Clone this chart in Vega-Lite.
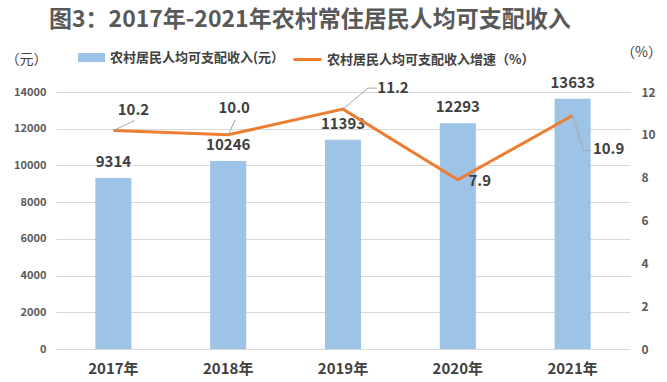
{
  "$schema": "https://vega.github.io/schema/vega-lite/v6.json",
  "width": 574,
  "height": 257,
  "autosize": "none",
  "padding": {"left": 56, "top": 92, "right": 37, "bottom": 33},
  "background": "white",
  "config": {
    "font": "Noto Sans CJK SC",
    "view": {"stroke": null},
    "legend": {"padding": 0, "labelLimit": 0}
  },
  "title": {
    "text": "图3：2017年-2021年农村常住居民人均可支配收入",
    "anchor": "start",
    "frame": "group",
    "dx": -7,
    "offset": 12,
    "fontSize": 23,
    "fontWeight": "bold",
    "color": "#595959"
  },
  "data": {
    "values": [
      {"year": "2017年", "income": 9314, "rate": 10.2},
      {"year": "2018年", "income": 10246, "rate": 10.0},
      {"year": "2019年", "income": 11393, "rate": 11.2},
      {"year": "2020年", "income": 12293, "rate": 7.9},
      {"year": "2021年", "income": 13633, "rate": 10.9}
    ]
  },
  "encoding": {
    "x": {
      "field": "year",
      "type": "nominal",
      "sort": null,
      "scale": {"paddingInner": 0.686, "paddingOuter": 0.343},
      "axis": {
        "title": null,
        "labelAngle": 0,
        "domain": false,
        "ticks": false,
        "labelPadding": 12,
        "labelFontSize": 15,
        "labelFontWeight": "bold",
        "labelColor": "#404040"
      }
    }
  },
  "layer": [
    {
      "encoding": {
        "y": {
          "field": "income",
          "type": "quantitative",
          "scale": {"domain": [0, 14000]},
          "axis": {
            "values": [0, 2000, 4000, 6000, 8000, 10000, 12000, 14000],
            "format": "d",
            "domain": false,
            "ticks": false,
            "gridColor": "#d9d9d9",
            "labelPadding": 10,
            "labelFontSize": 11,
            "labelFontWeight": "bold",
            "labelColor": "#595959",
            "title": "（元）",
            "titleAngle": 0,
            "titleAlign": "center",
            "titleBaseline": "middle",
            "titleX": -30,
            "titleY": -33,
            "titleFontSize": 14,
            "titleFontWeight": "normal",
            "titleColor": "#404040"
          }
        }
      },
      "layer": [
        {
          "mark": {"type": "bar"},
          "encoding": {
            "color": {
              "datum": "农村居民人均可支配收入(元）",
              "scale": {"range": ["#9DC3E6"]},
              "legend": {
                "title": null,
                "orient": "none",
                "legendX": 22,
                "legendY": -48,
                "symbolType": "M-1,-0.33H1V0.33H-1Z",
                "symbolSize": 729,
                "symbolStrokeWidth": 0,
                "labelOffset": 5,
                "labelFontSize": 13,
                "labelFontWeight": "bold",
                "labelColor": "#404040"
              }
            }
          }
        },
        {
          "mark": {"type": "text", "dy": -16, "baseline": "middle", "fontSize": 15, "fontWeight": "bold", "color": "#404040"},
          "encoding": {"text": {"field": "income", "type": "quantitative", "format": "d"}}
        }
      ]
    },
    {
      "encoding": {
        "y": {
          "field": "rate",
          "type": "quantitative",
          "scale": {"domain": [0, 12]},
          "axis": {
            "orient": "right",
            "values": [0, 2, 4, 6, 8, 10, 12],
            "grid": false,
            "domain": false,
            "ticks": false,
            "labelPadding": 11,
            "labelFontSize": 12,
            "labelFontWeight": "bold",
            "labelColor": "#595959",
            "title": "（%）",
            "titleAngle": 0,
            "titleAlign": "center",
            "titleBaseline": "middle",
            "titleX": 11,
            "titleY": -40,
            "titleFontSize": 14,
            "titleFontWeight": "normal",
            "titleColor": "#404040"
          }
        }
      },
      "layer": [
        {
          "mark": {"type": "line", "strokeWidth": 3},
          "encoding": {
            "stroke": {
              "datum": "农村居民人均可支配收入增速（%）",
              "scale": {"range": ["#ED7D31"]},
              "legend": {
                "title": null,
                "orient": "none",
                "legendX": 236,
                "legendY": -48,
                "symbolType": "stroke",
                "symbolSize": 784,
                "symbolStrokeWidth": 3,
                "labelOffset": 4,
                "labelFontSize": 13,
                "labelFontWeight": "bold",
                "labelColor": "#404040"
              }
            }
          }
        },
        {
          "transform": [{"filter": "datum.year == '2017年'"}],
          "mark": {"type": "rule", "color": "#a6a6a6", "strokeWidth": 1, "x2Offset": 21, "y2Offset": -10},
          "encoding": {"x2": {"field": "year"}, "y2": {"field": "rate"}}
        },
        {
          "transform": [{"filter": "datum.year == '2018年'"}],
          "mark": {"type": "rule", "color": "#a6a6a6", "strokeWidth": 1, "x2Offset": 7, "y2Offset": -15},
          "encoding": {"x2": {"field": "year"}, "y2": {"field": "rate"}}
        },
        {
          "transform": [{"filter": "datum.year == '2019年'"}],
          "mark": {"type": "rule", "color": "#a6a6a6", "strokeWidth": 1, "x2Offset": 25, "y2Offset": -21},
          "encoding": {"x2": {"field": "year"}, "y2": {"field": "rate"}}
        },
        {
          "transform": [{"filter": "datum.year == '2019年'"}],
          "mark": {"type": "rule", "color": "#a6a6a6", "strokeWidth": 1, "xOffset": 25, "yOffset": -21, "x2Offset": 34, "y2Offset": -21},
          "encoding": {"x2": {"field": "year"}, "y2": {"field": "rate"}}
        },
        {
          "transform": [{"filter": "datum.year == '2021年'"}],
          "mark": {"type": "rule", "color": "#a6a6a6", "strokeWidth": 1, "x2Offset": 11, "y2Offset": 35},
          "encoding": {"x2": {"field": "year"}, "y2": {"field": "rate"}}
        },
        {
          "transform": [{"filter": "datum.year == '2021年'"}],
          "mark": {"type": "rule", "color": "#a6a6a6", "strokeWidth": 1, "xOffset": 11, "yOffset": 35, "x2Offset": 18, "y2Offset": 35},
          "encoding": {"x2": {"field": "year"}, "y2": {"field": "rate"}}
        },
        {
          "transform": [{"filter": "datum.year == '2017年'"}],
          "mark": {"type": "text", "dx": 20, "dy": -21, "baseline": "middle", "fontSize": 15, "fontWeight": "bold", "color": "#404040"},
          "encoding": {"text": {"field": "rate", "type": "quantitative", "format": ".1f"}}
        },
        {
          "transform": [{"filter": "datum.year == '2018年'"}],
          "mark": {"type": "text", "dx": 6, "dy": -27, "baseline": "middle", "fontSize": 15, "fontWeight": "bold", "color": "#404040"},
          "encoding": {"text": {"field": "rate", "type": "quantitative", "format": ".1f"}}
        },
        {
          "transform": [{"filter": "datum.year == '2019年'"}],
          "mark": {"type": "text", "dx": 50, "dy": -21, "baseline": "middle", "fontSize": 15, "fontWeight": "bold", "color": "#404040"},
          "encoding": {"text": {"field": "rate", "type": "quantitative", "format": ".1f"}}
        },
        {
          "transform": [{"filter": "datum.year == '2020年'"}],
          "mark": {"type": "text", "dx": 22, "dy": 1, "baseline": "middle", "fontSize": 15, "fontWeight": "bold", "color": "#404040"},
          "encoding": {"text": {"field": "rate", "type": "quantitative", "format": ".1f"}}
        },
        {
          "transform": [{"filter": "datum.year == '2021年'"}],
          "mark": {"type": "text", "dx": 36, "dy": 33, "baseline": "middle", "fontSize": 15, "fontWeight": "bold", "color": "#404040"},
          "encoding": {"text": {"field": "rate", "type": "quantitative", "format": ".1f"}}
        }
      ]
    }
  ],
  "resolve": {"scale": {"y": "independent"}}
}
